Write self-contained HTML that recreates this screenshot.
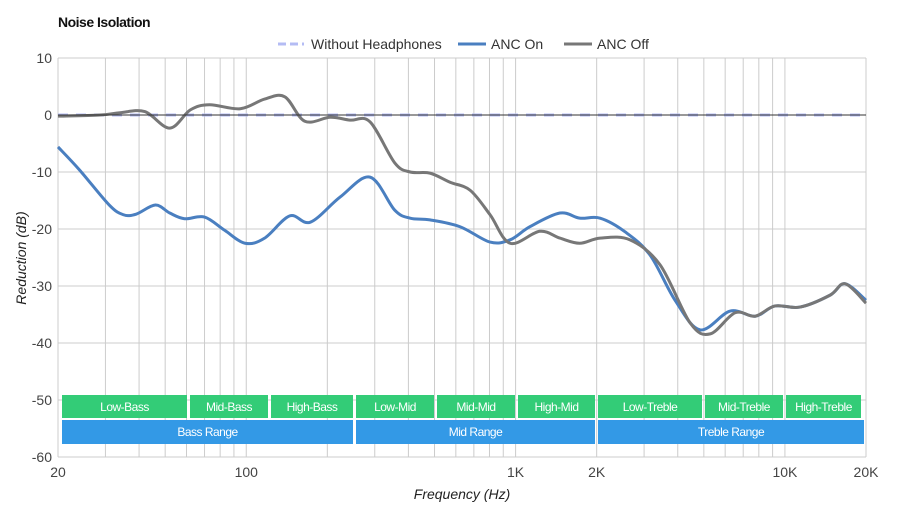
<!DOCTYPE html>
<html><head><meta charset="utf-8"><style>
body{margin:0;background:#fff;font-family:"Liberation Sans",sans-serif;}
svg text{font-family:"Liberation Sans",sans-serif;}
</style></head><body>
<svg id="chart" width="900" height="520">
<text x="58" y="27" font-size="14" font-weight="bold" fill="#111" letter-spacing="-0.5">Noise Isolation</text>
<g>
<g><line x1="278" y1="44" x2="304" y2="44" stroke="#b4bcf4" stroke-width="3" stroke-dasharray="8,4"/><text x="311" y="49" font-size="14" fill="#333">Without Headphones</text></g>
<g><line x1="458" y1="44" x2="486" y2="44" stroke="#4a7fc0" stroke-width="3"/><text x="491" y="49" font-size="14" fill="#333">ANC On</text></g>
<g><line x1="564" y1="44" x2="592" y2="44" stroke="#777" stroke-width="3"/><text x="597" y="49" font-size="14" fill="#333">ANC Off</text></g>
</g>
<g id="grid"></g><g id="bands"></g><g id="series"></g><g id="axes"></g>
<text x="26" y="258" font-size="14" font-style="italic" fill="#222" text-anchor="middle" transform="rotate(-90 26 258)">Reduction (dB)</text>
<text x="462" y="499" font-size="14" font-style="italic" fill="#222" text-anchor="middle">Frequency (Hz)</text>
</svg>
<script>
const freqOn=[20,24,31,35,39,46,52,59,70,83,99,117,145,173,223,288,356,406,481,622,804,954,1130,1460,1730,2060,2550,3160,3910,4840,6260,7750,9190,11380,14720,16720,20000];
const dbOn=[-5.6,-9.6,-15.8,-17.5,-17.4,-15.8,-17.2,-18.2,-17.9,-20.2,-22.5,-21.6,-17.7,-18.8,-14.4,-10.9,-16.7,-18.1,-18.4,-19.6,-22.3,-21.9,-19.6,-17.2,-18.1,-18.1,-20.5,-24.6,-32.5,-37.7,-34.4,-35.3,-33.5,-33.7,-31.6,-29.6,-32.5];
const freqOff=[20,28.6,34,42,52,62,73,95,117,139,165,205,243,288,356,406,481,571,678,804,954,1230,1460,1730,2060,2660,3440,4450,5280,6530,7750,9190,11380,14720,16720,20000];
const dbOff=[-0.2,0,0.4,0.6,-2.3,0.9,1.8,1.1,2.8,3.2,-1.1,-0.4,-0.9,-1.2,-8.4,-10,-10.2,-11.8,-13.2,-17.5,-22.5,-20.4,-21.6,-22.5,-21.6,-21.9,-26.3,-36.5,-38.4,-34.7,-35.3,-33.5,-33.7,-31.6,-29.6,-33];
const yTicks=[10,0,-10,-20,-30,-40,-50,-60];
const xTickVals=[20,100,1000,2000,10000,20000];
const xTickLabels=["20","100","1K","2K","10K","20K"];
const bandNames=["Low-Bass","Mid-Bass","High-Bass","Low-Mid","Mid-Mid","High-Mid","Low-Treble","Mid-Treble","High-Treble"];
const bandEdges=[20,40,80,160,320,640,1280,2560,5120,10240,20000];
const L=58,R=866,T=58,B=457;
const X=f=>L+(R-L)*Math.log10(f/20)/3;
const Y=d=>T+(10-d)*(B-T)/70;
const NS="http://www.w3.org/2000/svg";
function mk(tag,attrs,parent){const e=document.createElementNS(NS,tag);for(const k in attrs)e.setAttribute(k,attrs[k]);parent.appendChild(e);return e;}
const grid=document.getElementById('grid'),axes=document.getElementById('axes'),bands=document.getElementById('bands'),series=document.getElementById('series');
// vertical grid
for(let dec=10;dec<=10000;dec*=10){for(let m=1;m<=9;m++){const f=dec*m;if(f<20||f>20000)continue;const l=mk('line',{x1:X(f),x2:X(f),y1:T,y2:B,stroke:'#ccc','stroke-width':1},grid);

}}
{const l=mk('line',{x1:X(20000),x2:X(20000),y1:T,y2:B,stroke:'#ccc'},grid);

}
yTicks.forEach(v=>{const l=mk('line',{x1:L,x2:R,y1:Y(v),y2:Y(v),stroke:'#ccc'},grid);


const t=mk('text',{x:52,y:Y(v)+5,'font-size':14,fill:'#444','text-anchor':'end'},axes);t.textContent=v;

});
xTickVals.forEach((v,i)=>{const t=mk('text',{x:X(v),y:477,'font-size':14,fill:'#444','text-anchor':'middle'},axes);t.textContent=xTickLabels[i];

});
// bands
const bx=(i)=>i===0?62:X(bandEdges[i+1]===undefined?20000:bandEdges[i])+2;
const edgesPx=[62,190,271,356,437,518,598,705,786,864];
bandNames.forEach((n,i)=>{const x1=edgesPx[i],x2=edgesPx[i+1]-3;const r=mk('rect',{x:x1,y:395,width:x2-x1,height:23,fill:'#33cc77'},bands);


const t=mk('text',{x:(x1+x2)/2,y:411,'font-size':12,fill:'#fff','text-anchor':'middle','letter-spacing':'-0.5'},bands);t.textContent=n;

});
[["Bass Range",62,353],["Mid Range",356,595],["Treble Range",598,864]].forEach(a=>{const r=mk('rect',{x:a[1],y:420,width:a[2]-a[1],height:24,fill:'#3399e6'},bands);


const t=mk('text',{x:(a[1]+a[2])/2,y:436,'font-size':12,fill:'#fff','text-anchor':'middle','letter-spacing':'-0.5'},bands);t.textContent=a[0];

});
// series
function smooth(pts){let d='M'+pts[0][0]+','+pts[0][1];for(let i=0;i<pts.length-1;i++){const p0=pts[i-1]||pts[i],p1=pts[i],p2=pts[i+1],p3=pts[i+2]||p2;const c1=[p1[0]+(p2[0]-p0[0])/6,p1[1]+(p2[1]-p0[1])/6],c2=[p2[0]-(p3[0]-p1[0])/6,p2[1]-(p3[1]-p1[1])/6];d+=' C'+c1+' '+c2+' '+p2;}return d;}
const base=mk('line',{x1:L,x2:R,y1:Y(0),y2:Y(0),stroke:'#b4bcf4','stroke-width':3,'stroke-dasharray':'10,8'},series);


const pOff=mk('path',{d:smooth(freqOff.map((f,i)=>[X(f),Y(dbOff[i])])),fill:'none',stroke:'#777','stroke-width':3},series);


const pOn=mk('path',{d:smooth(freqOn.map((f,i)=>[X(f),Y(dbOn[i])])),fill:'none',stroke:'#4a7fc0','stroke-width':3},series);


series.appendChild(pOff);
const zl=mk('line',{x1:L,x2:R,y1:Y(0),y2:Y(0),stroke:'#333','stroke-width':1},axes);


</script>
</body></html>
